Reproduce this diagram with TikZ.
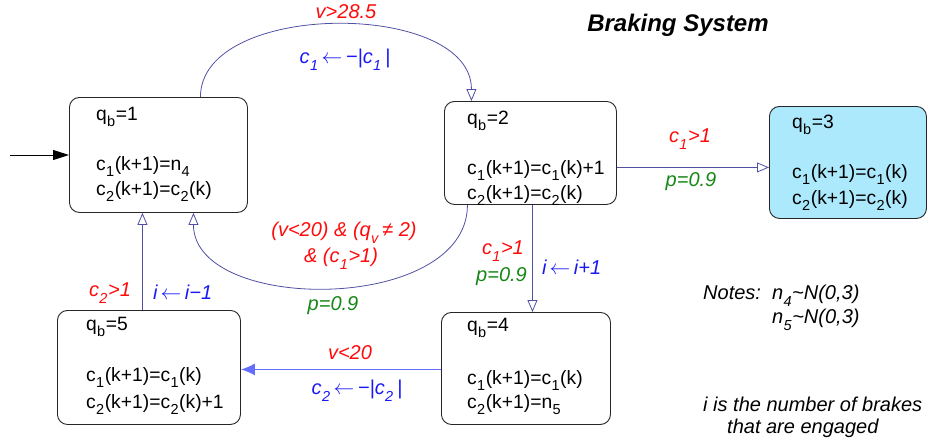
\documentclass[tikz,border=0pt]{standalone}
\usepackage{fontspec}
\setmainfont{Liberation Sans}
\usetikzlibrary{arrows.meta}
\definecolor{guard}{RGB}{255,10,10}
\definecolor{reset}{RGB}{25,25,245}
\definecolor{prob}{RGB}{20,135,20}
\definecolor{edgec}{RGB}{80,80,165}
\definecolor{edgelight}{RGB}{100,110,255}
\definecolor{boxfill}{RGB}{172,233,252}
\newcommand\sbs[1]{\kern0.3pt\raisebox{-0.33em}{\fontsize{14.5}{14.5}\selectfont #1}\kern0.6pt}
\newcommand\larr{\kern3pt\ensuremath{\leftarrow}\kern3.5pt}
\begin{document}
\begin{tikzpicture}[x=1pt,y=-1pt,
  box/.style={draw=black!85, rounded corners=10pt, line width=0.9pt, anchor=north west, inner sep=0pt},
  boxtext/.style={anchor=base west, inner sep=0pt, font=\fontsize{19.3}{23}\selectfont},
  lbl/.style={inner sep=0pt, font=\fontsize{20}{24}\selectfont\itshape},
  glbl/.style={lbl, text=guard},
  rlbl/.style={lbl, text=reset},
  plbl/.style={lbl, text=prob},
  edge/.style={draw=edgec, line width=0.8pt, -{Triangle[open, length=12pt, width=10pt]}},
  edgebold/.style={draw=edgelight, line width=1.2pt, -{Latex[length=14pt, width=12pt]}},
  initedge/.style={draw=black, line width=1pt, -{Triangle[length=16pt, width=10pt]}}]
\useasboundingbox (0,0) rectangle (928,444);

% boxes
\node (b1) [box, minimum width=178pt, minimum height=115pt] at (69,97) {};
\node (b2) [box, minimum width=172pt, minimum height=103pt] at (444,101) {};
\node (b3) [box, fill=boxfill, minimum width=157pt, minimum height=112pt] at (769,106) {};
\node (b4) [box, minimum width=169pt, minimum height=112pt] at (441,312) {};
\node (b5) [box, minimum width=183pt, minimum height=114pt] at (57,310) {};

% box texts
\node (t1a) [boxtext] at (96,120) {q\sbs{b}=1};
\node (t1b) [boxtext] at (96,170) {c\sbs{1}(k+1)=n\sbs{4}};
\node (t1c) [boxtext] at (96,195) {c\sbs{2}(k+1)=c\sbs{2}(k)};

\node (t2a) [boxtext] at (467,124) {q\sbs{b}=2};
\node (t2b) [boxtext] at (467,174) {c\sbs{1}(k+1)=c\sbs{1}(k)+1};
\node (t2c) [boxtext] at (467,199) {c\sbs{2}(k+1)=c\sbs{2}(k)};

\node (t3a) [boxtext] at (792,128) {q\sbs{b}=3};
\node (t3b) [boxtext] at (792,178) {c\sbs{1}(k+1)=c\sbs{1}(k)};
\node (t3c) [boxtext] at (792,204) {c\sbs{2}(k+1)=c\sbs{2}(k)};

\node (t4a) [boxtext] at (467,331) {q\sbs{b}=4};
\node (t4b) [boxtext] at (467,384) {c\sbs{1}(k+1)=c\sbs{1}(k)};
\node (t4c) [boxtext] at (467,408) {c\sbs{2}(k+1)=n\sbs{5}};

\node (t5a) [boxtext] at (86,330) {q\sbs{b}=5};
\node (t5b) [boxtext] at (86,381) {c\sbs{1}(k+1)=c\sbs{1}(k)};
\node (t5c) [boxtext] at (86,408) {c\sbs{2}(k+1)=c\sbs{2}(k)+1};

% connectors
\coordinate (init) at (10,155);
\draw[initedge] (init) -- (init -| b1.west);

\draw[edge] ([xshift=42pt]b1.north) .. controls +(0,-97) and +(0,-101) .. ([xshift=-59pt]b2.north);
\draw[edge] ([xshift=-63pt]b2.south) .. controls +(0,109) and +(0,101) .. ([xshift=35pt]b1.south);

\coordinate (e3a) at ([yshift=-14.5pt]b2.east);
\draw[edge] (e3a) -- (e3a -| b3.west);

\coordinate (e4a) at ([xshift=2pt]b2.south);
\draw[edge] (e4a) -- (e4a |- b4.north);

\coordinate (e5a) at ([xshift=-6.5pt]b5.north);
\draw[edge] (e5a) -- (e5a |- b1.south);

\coordinate (e6a) at ([yshift=-1pt]b4.west);
\draw[edgebold] (e6a) -- (e6a -| b5.east);

% edge labels
\node (l1) [glbl] at (346,12) {v>28.5};
\node (l2) [rlbl] at (345,60) {c\sbs{1}\larr−|c\sbs{1}\,|};
\node (l3) [glbl] at (344,233) {(v<20) \& (q\sbs{v}\,≠ 2)};
\node (l4) [glbl] at (341,259) {\& (c\sbs{1}>1)};
\node (l5) [plbl] at (333,306) {p=0.9};
\node (l6) [glbl] at (690,139) {c\sbs{1}>1};
\node (l7) [plbl] at (691,182) {p=0.9};
\node (l8) [glbl, anchor=east] at (524,251) {c\sbs{1}>1};
\node (l9) [plbl, anchor=east] at (527,277) {p=0.9};
\node (l10) [rlbl, anchor=west] at (542,267) {i\larr i+1};
\node (l11) [glbl] at (110,293) {c\sbs{2}>1};
\node (l12) [rlbl, anchor=west] at (153,292) {i\larr i−1};
\node (l13) [glbl] at (350,353) {v<20};
\node (l14) [rlbl] at (357,391) {c\sbs{2}\larr−|c\sbs{2}\,|};

% title and notes
\node (title) [inner sep=0pt, font=\fontsize{24}{28}\selectfont\bfseries\itshape] at (678,25) {Braking System};
\node (n1) [lbl, anchor=west] at (703,296) {Notes:\ \ n\sbs{4}\textasciitilde N(0,3)};
\node (n2) [lbl, anchor=west] at (772,320) {n\sbs{5}\textasciitilde N(0,3)};
\node (n3) [lbl, anchor=west] at (703,404) {i is the number of brakes};
\node (n4) [lbl, anchor=west] at (727,428) {that are engaged};
\end{tikzpicture}
\end{document}
